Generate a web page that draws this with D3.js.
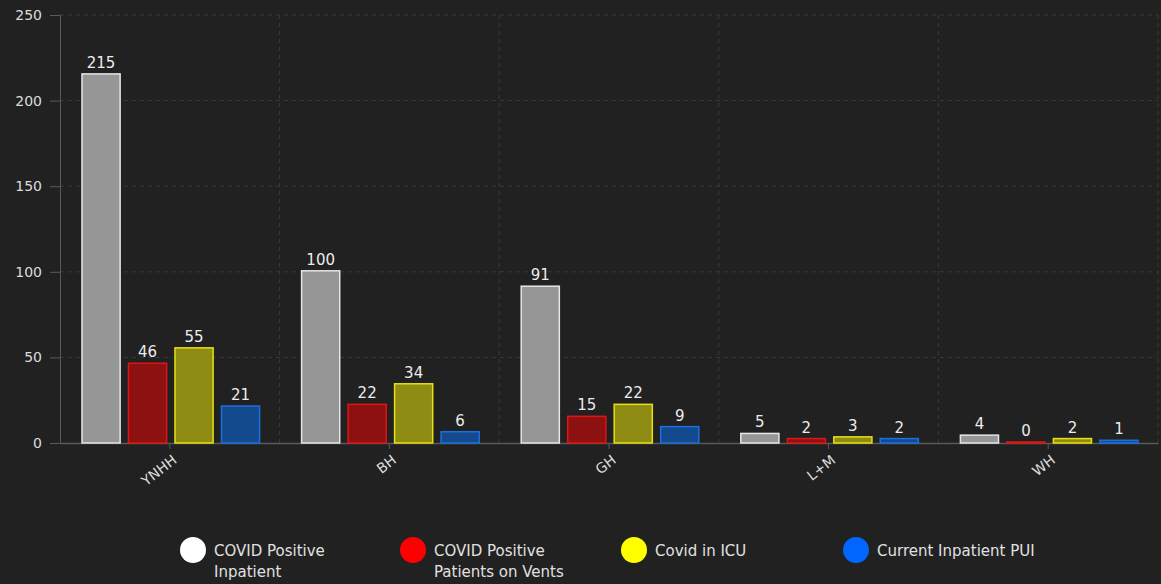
<!DOCTYPE html>
<html>
<head>
<meta charset="utf-8">
<script src="https://cdn.jsdelivr.net/npm/d3@7"></script>
<style>
  body { margin: 0; background: #212121; }
  svg { display: block; font-family: "DejaVu Sans", "Open Sans", sans-serif; }
</style>
</head>
<body>
<svg id="chart" width="1161" height="584"></svg>
<script>
const hospitals = ["YNHH", "BH", "GH", "L+M", "WH"];
const seriesNames = ["COVID Positive Inpatient", "COVID Positive Patients on Vents", "Covid in ICU", "Current Inpatient PUI"];
const positiveInpatient = [215, 100, 91, 5, 4];
const onVents = [46, 22, 15, 2, 0];
const inIcu = [55, 34, 22, 3, 2];
const inpatientPui = [21, 6, 9, 2, 1];
const yTicks = [0, 50, 100, 150, 200, 250];

const fills = ["#969696", "#8e1111", "#8f8c14", "#134a8e"];
const strokes = ["#e6e6e6", "#e01414", "#e8e012", "#1b6fe0"];
const legendColors = ["#ffffff", "#ff0000", "#ffff00", "#0066ff"];
const legendLines = [["COVID Positive", "Inpatient"], ["COVID Positive", "Patients on Vents"], ["Covid in ICU"], ["Current Inpatient PUI"]];

const allSeries = [positiveInpatient, onVents, inIcu, inpatientPui];
const rows = hospitals.map((h, i) => ({ name: h, values: allSeries.map(s => s[i]) }));

const svg = d3.select("#chart"),
      margin = { top: 15, right: 3, bottom: 141, left: 60 },
      width = 1161 - margin.left - margin.right,
      height = 584 - margin.top - margin.bottom;

const chart = svg.append("g").attr("transform", `translate(${margin.left},${margin.top})`);

const x0 = d3.scaleBand().domain(hospitals).range([0, width]).paddingInner(0).paddingOuter(0);
const x1 = d3.scaleBand().domain(d3.range(4)).range([22, x0.bandwidth() - 20]).paddingInner(0.18);
const y = d3.scaleLinear().domain([0, 250]).range([height, 0]);

// Grid lines
chart.append("g")
    .selectAll("line")
    .data(yTicks.slice(1))
    .join("line")
    .attr("x1", 0).attr("x2", width)
    .attr("y1", d => y(d)).attr("y2", d => y(d))
    .attr("stroke", "#3a3a3a").attr("stroke-dasharray", "4,4");

chart.append("g")
    .selectAll("line")
    .data(hospitals.slice(1).concat(["end"]))
    .join("line")
    .attr("x1", (d, i) => (i + 1) * x0.bandwidth())
    .attr("x2", (d, i) => (i + 1) * x0.bandwidth())
    .attr("y1", 0).attr("y2", height)
    .attr("stroke", "#3a3a3a").attr("stroke-dasharray", "4,4");

// Y axis
const yAxis = chart.append("g")
    .call(d3.axisLeft(y).tickValues(yTicks).tickSize(10).tickPadding(8));
yAxis.select(".domain").attr("stroke", "#5a5a5a");
yAxis.selectAll(".tick line").attr("stroke", "#5a5a5a");
yAxis.selectAll("text").attr("fill", "#dcdcdc").style("font-size", "14px")
    .style("font-family", "DejaVu Sans");

// X axis
const xAxis = chart.append("g")
    .attr("transform", `translate(0,${height})`)
    .call(d3.axisBottom(x0).tickSize(6).tickSizeOuter(0));
xAxis.select(".domain").attr("stroke", "#5a5a5a").attr("stroke-width", 1.5);
xAxis.selectAll(".tick line").attr("stroke", "#5a5a5a");
xAxis.selectAll("text")
    .attr("fill", "#dcdcdc")
    .style("font-size", "14px")
    .style("font-family", "DejaVu Sans")
    .style("text-anchor", "end")
    .attr("x", 0).attr("y", 0)
    .attr("dy", "0.35em")
    .attr("transform", "translate(5,15) rotate(-38)");

// Bars
const groups = chart.selectAll(".group")
    .data(rows)
    .join("g")
    .attr("class", "group")
    .attr("transform", d => `translate(${x0(d.name)},0)`);

groups.selectAll("rect")
    .data(d => d.values.map((v, i) => ({ i, v })))
    .join("rect")
    .attr("x", d => x1(d.i))
    .attr("width", x1.bandwidth())
    .attr("y", d => y(d.v) - 1)
    .attr("height", d => y(0) - y(d.v) + 1)
    .attr("fill", d => fills[d.i])
    .attr("stroke", d => strokes[d.i])
    .attr("stroke-width", 1.5);

groups.selectAll("text")
    .data(d => d.values.map((v, i) => ({ i, v })))
    .join("text")
    .attr("x", d => x1(d.i) + x1.bandwidth() / 2)
    .attr("y", d => y(d.v) - 7)
    .attr("text-anchor", "middle")
    .attr("fill", "#ececec")
    .style("font-size", "15px")
    .text(d => d.v);

// Legend
const legendX = [193, 413, 634, 856];
const legend = svg.append("g")
    .selectAll("g")
    .data(seriesNames)
    .join("g")
    .attr("transform", (d, i) => `translate(${legendX[i]},550)`);

legend.append("circle")
    .attr("r", 13)
    .attr("fill", (d, i) => legendColors[i]);

legend.append("text")
    .attr("fill", "#e0e0e0")
    .style("font-size", "15px")
    .selectAll("tspan")
    .data((d, i) => legendLines[i])
    .join("tspan")
    .attr("x", 21)
    .attr("y", (d, j) => 6 + j * 21)
    .text(d => d);
</script>
</body>
</html>
